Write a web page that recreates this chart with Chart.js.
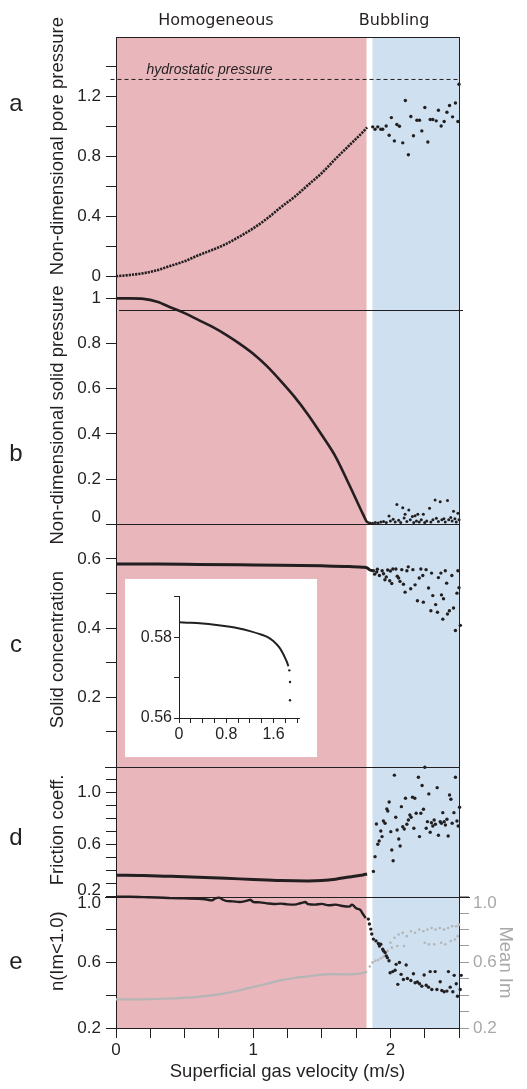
<!DOCTYPE html>
<html>
<head>
<meta charset="utf-8">
<script src="https://cdn.jsdelivr.net/npm/chart.js@4.4.1/dist/chart.umd.min.js"></script>
<style>
  html, body { margin: 0; padding: 0; background: #fff; }
  #wrap { position: relative; width: 527px; height: 1089px; }
  #main { position: absolute; left: 0; top: 0; }
  #inset { position: absolute; left: 125px; top: 579px; background: #fff; }
</style>
</head>
<body>
<div id="wrap">
  <canvas id="main" width="527" height="1089"></canvas>
  <canvas id="inset" width="192" height="178"></canvas>
</div>
<script>
// ---- data ----
const xTicks = [0, 0.25, 0.5, 0.75, 1, 1.25, 1.5, 1.75, 2, 2.25, 2.5];
const xLabels = ['0', '', '', '', '1', '', '', '', '2', '', ''];
const regimes = ['Homogeneous', 'Bubbling'];
const regimeBounds = [[0, 1.826], [1.869, 2.5]];
const hydrostatic = 1.316;

// a: pore pressure
const aTicks = [0, 0.2, 0.4, 0.6, 0.8, 1.0, 1.2, 1.4];
const aLabels = ['0', '', '0.4', '', '0.8', '', '1.2', ''];
const aHomX = [0, 0.1, 0.2, 0.3, 0.4, 0.5, 0.6, 0.7, 0.8, 0.9, 1.0, 1.1, 1.2, 1.3, 1.4, 1.5, 1.6, 1.7, 1.8, 1.83];
const aHomY = [0, 0.008, 0.02, 0.04, 0.07, 0.10, 0.14, 0.175, 0.215, 0.265, 0.32, 0.385, 0.46, 0.53, 0.61, 0.69, 0.785, 0.875, 0.965, 0.995];
const aBubX = [1.871, 1.888, 1.908, 1.930, 1.944, 1.969, 1.991, 2.007, 2.029, 2.047, 2.066, 2.090, 2.109, 2.131, 2.149, 2.168, 2.193, 2.212, 2.229, 2.251, 2.273, 2.290, 2.309, 2.334, 2.350, 2.370, 2.392, 2.412, 2.431, 2.453, 2.474, 2.492, 2.50];
const aBubY = [0.999, 0.983, 0.999, 0.983, 0.983, 1.005, 0.943, 1.061, 0.905, 1.015, 1.003, 0.892, 1.175, 0.812, 1.068, 0.939, 1.043, 1.043, 0.972, 1.128, 0.898, 1.048, 1.048, 1.039, 1.110, 1.005, 1.035, 1.097, 1.142, 1.066, 1.159, 1.035, 1.284];

// b: solid pressure
const bTicks = [0, 0.2, 0.4, 0.6, 0.8, 1];
const bLabels = ['0', '0.2', '0.4', '0.6', '0.8', '1'];
const bHomX = [0, 0.1, 0.2, 0.3, 0.4, 0.5, 0.6, 0.7, 0.8, 0.9, 1.0, 1.1, 1.2, 1.3, 1.4, 1.5, 1.6, 1.7, 1.8, 1.83, 1.86];
const bHomY = [1.0, 1.0, 0.998, 0.985, 0.96, 0.935, 0.905, 0.875, 0.84, 0.80, 0.755, 0.70, 0.635, 0.565, 0.485, 0.395, 0.30, 0.175, 0.045, 0.01, 0.005];
const bBubX = [1.87, 1.89, 1.91, 1.93, 1.95, 1.97, 1.99, 2.0, 2.02, 2.035, 2.047, 2.06, 2.075, 2.09, 2.1, 2.107, 2.12, 2.134, 2.145, 2.16, 2.17, 2.18, 2.19, 2.2, 2.21, 2.225, 2.24, 2.25, 2.265, 2.285, 2.295, 2.31, 2.326, 2.335, 2.35, 2.363, 2.375, 2.39, 2.4, 2.416, 2.425, 2.44, 2.45, 2.46, 2.47, 2.48, 2.492, 2.5];
const bBubY = [0.005, 0.008, 0.006, 0.01, 0.012, 0.008, 0.037, 0.015, 0.022, 0.01, 0.088, 0.018, 0.008, 0.073, 0.028, 0.044, 0.012, 0.063, 0.02, 0.035, 0.008, 0.038, 0.015, 0.045, 0.01, 0.02, 0.044, 0.008, 0.015, 0.071, 0.01, 0.02, 0.108, 0.027, 0.012, 0.10, 0.02, 0.025, 0.01, 0.105, 0.02, 0.03, 0.015, 0.058, 0.025, 0.01, 0.049, 0.02];

// c: solid concentration
const cTicks = [0.1, 0.2, 0.3, 0.4, 0.5, 0.6];
const cLabels = ['', '0.2', '', '0.4', '', '0.6'];
const cHomX = [0, 0.3, 0.6, 0.9, 1.2, 1.5, 1.7, 1.8, 1.83, 1.85, 1.87];
const cHomY = [0.585, 0.585, 0.584, 0.583, 0.582, 0.580, 0.578, 0.576, 0.574, 0.568, 0.566];
const cBubX = [1.876, 1.90, 1.92, 1.94, 1.96, 1.98, 1.995, 2.01, 2.018, 2.04, 2.06, 2.07, 2.083, 2.095, 2.107, 2.12, 2.13, 2.148, 2.164, 2.18, 2.197, 2.21, 2.222, 2.236, 2.24, 2.26, 2.278, 2.295, 2.30, 2.309, 2.33, 2.343, 2.35, 2.368, 2.372, 2.382, 2.387, 2.40, 2.41, 2.416, 2.43, 2.448, 2.46, 2.474, 2.485, 2.492, 2.50, 2.51, 1.885, 1.905, 1.95, 1.97, 2.0, 2.05];
const cBubY = [0.566, 0.562, 0.552, 0.566, 0.540, 0.568, 0.537, 0.529, 0.571, 0.571, 0.545, 0.535, 0.569, 0.527, 0.504, 0.566, 0.577, 0.514, 0.569, 0.525, 0.479, 0.545, 0.571, 0.552, 0.475, 0.569, 0.516, 0.450, 0.559, 0.494, 0.468, 0.446, 0.546, 0.559, 0.496, 0.426, 0.485, 0.566, 0.530, 0.441, 0.450, 0.552, 0.458, 0.393, 0.501, 0.566, 0.517, 0.408, 0.556, 0.570, 0.557, 0.548, 0.565, 0.550];

// c inset
const insetXTicks = [0, 0.2, 0.4, 0.6, 0.8, 1.0, 1.2, 1.4, 1.6, 1.8, 2.0];
const insetXLabels = ['0', '', '', '', '0.8', '', '', '', '1.6', '', ''];
const insetYTicks = [0.56, 0.57, 0.58, 0.59];
const insetYLabels = ['0.56', '', '0.58', ''];
const insetX = [0, 0.2, 0.4, 0.6, 0.8, 1.0, 1.2, 1.4, 1.5, 1.6, 1.7, 1.75, 1.8, 1.83, 1.85];
const insetY = [0.5837, 0.5836, 0.5834, 0.5831, 0.5827, 0.5822, 0.5815, 0.5806, 0.5800, 0.5790, 0.5774, 0.5762, 0.5747, 0.5737, 0.5728];
const insetTailX = [1.866, 1.878, 1.878];
const insetTailY = [0.5718, 0.5689, 0.5644];

// d: friction coefficient
const dTicks = [0.2, 0.3, 0.4, 0.5, 0.6, 0.7, 0.8, 0.9, 1.0, 1.1];
const dLabels = ['0.2', '', '', '', '0.6', '', '', '', '1.0', ''];
const dHomX = [0, 0.2, 0.4, 0.6, 0.8, 1.0, 1.2, 1.4, 1.5, 1.6, 1.7, 1.8, 1.83];
const dHomY = [0.365, 0.363, 0.357, 0.35, 0.342, 0.333, 0.325, 0.322, 0.325, 0.335, 0.352, 0.368, 0.375];
const dBubX = [1.876, 1.888, 1.898, 1.908, 1.918, 1.930, 1.939, 1.949, 1.961, 1.974, 1.981, 1.991, 2.003, 2.010, 2.020, 2.029, 2.039, 2.049, 2.061, 2.071, 2.080, 2.090, 2.101, 2.110, 2.120, 2.131, 2.142, 2.151, 2.161, 2.171, 2.178, 2.188, 2.204, 2.212, 2.222, 2.231, 2.241, 2.251, 2.261, 2.270, 2.280, 2.290, 2.299, 2.309, 2.319, 2.328, 2.341, 2.350, 2.363, 2.372, 2.382, 2.392, 2.401, 2.412, 2.421, 2.431, 2.441, 2.450, 2.463, 2.474, 2.485, 2.494, 2.504, 2.514, 2.523];
const dBubY = [0.395, 0.508, 0.759, 0.603, 0.628, 0.705, 0.662, 0.782, 0.765, 0.875, 0.859, 0.928, 0.700, 0.559, 0.477, 1.134, 0.811, 0.713, 0.644, 0.590, 0.892, 0.738, 0.721, 0.957, 0.757, 0.790, 0.828, 0.811, 0.965, 0.726, 0.957, 0.842, 1.118, 0.662, 0.842, 1.054, 0.872, 1.195, 0.726, 0.777, 0.990, 0.695, 0.769, 0.744, 0.790, 0.757, 1.038, 0.672, 0.777, 0.765, 0.846, 0.777, 0.751, 0.795, 0.667, 0.982, 0.949, 0.765, 0.846, 1.118, 0.782, 0.744, 0.888, 0.795, 0.867];

// e: n(Im<1.0) (black, left) and Mean Im (grey, right)
const eTicks = [0.2, 0.4, 0.6, 0.8, 1.0];
const eLabels = ['0.2', '', '0.6', '', '1.0'];
const imTicks = [0.2, 0.3, 0.4, 0.5, 0.6, 0.7, 0.8, 0.9, 1.0];
const imLabels = ['0.2', '', '', '', '0.6', '', '', '', '1.0'];
const nHomX = [0, 0.1, 0.2, 0.3, 0.4, 0.5, 0.6, 0.65, 0.7, 0.72, 0.75, 0.78, 0.8, 0.85, 0.9, 0.95, 0.98, 1.0, 1.05, 1.1, 1.15, 1.2, 1.25, 1.3, 1.35, 1.38, 1.4, 1.45, 1.5, 1.55, 1.6, 1.65, 1.7, 1.72, 1.75, 1.78, 1.8, 1.82];
const nHomY = [1.0, 1.0, 0.998, 0.996, 0.992, 0.99, 0.988, 0.985, 0.978, 0.988, 0.995, 0.982, 0.975, 0.972, 0.968, 0.975, 0.982, 0.968, 0.966, 0.96, 0.956, 0.958, 0.954, 0.952, 0.962, 0.968, 0.955, 0.952, 0.957, 0.948, 0.952, 0.944, 0.94, 0.952, 0.93, 0.92, 0.895, 0.87];
const nBubX = [1.839, 1.847, 1.857, 1.864, 1.876, 1.895, 1.912, 1.930, 1.944, 1.961, 1.978, 1.998, 2.017, 2.034, 2.042, 2.054, 2.066, 2.078, 2.095, 2.115, 2.124, 2.149, 2.168, 2.180, 2.197, 2.212, 2.229, 2.246, 2.261, 2.278, 2.290, 2.302, 2.326, 2.339, 2.363, 2.375, 2.392, 2.412, 2.423, 2.436, 2.455, 2.465, 2.480, 2.489, 2.509, 2.516, 1.92, 1.95, 1.97, 1.99];
const nBubY = [0.864, 0.834, 0.803, 0.773, 0.742, 0.731, 0.715, 0.711, 0.680, 0.660, 0.629, 0.537, 0.544, 0.552, 0.588, 0.466, 0.599, 0.527, 0.496, 0.584, 0.502, 0.490, 0.531, 0.476, 0.480, 0.470, 0.455, 0.523, 0.461, 0.449, 0.544, 0.435, 0.544, 0.435, 0.482, 0.429, 0.421, 0.425, 0.544, 0.449, 0.421, 0.521, 0.470, 0.394, 0.435, 0.521, 0.700, 0.670, 0.640, 0.610];
const imHomX = [0, 0.2, 0.4, 0.6, 0.75, 0.9, 1.0, 1.1, 1.2, 1.3, 1.4, 1.5, 1.6, 1.7, 1.8, 1.83];
const imHomY = [0.375, 0.375, 0.38, 0.39, 0.405, 0.43, 0.45, 0.47, 0.49, 0.505, 0.515, 0.525, 0.528, 0.527, 0.535, 0.545];
const imBubX = [1.85, 1.87, 1.89, 1.91, 1.93, 1.95, 1.97, 1.98, 2.0, 2.01, 2.03, 2.05, 2.06, 2.09, 2.1, 2.12, 2.15, 2.18, 2.21, 2.24, 2.25, 2.27, 2.28, 2.3, 2.32, 2.33, 2.36, 2.37, 2.39, 2.4, 2.42, 2.44, 2.45, 2.47, 2.48, 2.49, 2.5];
const imBubY = [0.575, 0.60, 0.61, 0.615, 0.625, 0.635, 0.65, 0.67, 0.72, 0.69, 0.75, 0.70, 0.77, 0.78, 0.70, 0.76, 0.79, 0.78, 0.80, 0.79, 0.72, 0.80, 0.71, 0.81, 0.71, 0.80, 0.81, 0.72, 0.80, 0.71, 0.81, 0.73, 0.82, 0.74, 0.82, 0.76, 0.83];

// ---- styling ----
const ink = '#231f20';
const grey = '#b5b5b5';
const regimeColors = ['#e8b6bb', '#cfe1f0'];
Chart.defaults.font.family = '"Liberation Sans", Arial, sans-serif';
Chart.defaults.color = ink;

const pts = (xs, ys) => xs.map((x, i) => ({x: x, y: ys[i]}));
const curve = (xs, ys, axis, width, color, dash) => ({
  data: pts(xs, ys), yAxisID: axis, showLine: true, pointRadius: 0,
  borderColor: color || ink, borderWidth: width, borderDash: dash || [],
  cubicInterpolationMode: 'monotone', clip: false
});
const dots = (xs, ys, axis, r, color) => ({
  data: pts(xs, ys), yAxisID: axis, showLine: false, pointRadius: r,
  pointBackgroundColor: color || ink, pointBorderWidth: 0, clip: false
});

// label nudges: 'up' / 'down' move a label off a panel boundary
function leftAxis(min, max, ticks, labels, weight, stackWeight, nudge) {
  nudge = nudge || {};
  return {
    type: 'linear', position: 'left', stack: 'left', stackWeight: stackWeight, weight: weight,
    min: min, max: max,
    afterFit: s => { s.width = 116; },
    afterBuildTicks: s => { s.ticks = ticks.map(v => ({value: v})); },
    grid: {drawOnChartArea: false, drawTicks: true, tickLength: 10, color: ink},
    border: {display: true, color: ink},
    ticks: {
      autoSkip: false, padding: 5, color: ink, font: {size: 17, lineHeight: 0.8},
      callback: (v, i) => nudge[i] === 'up' ? [labels[i], ''] : nudge[i] === 'down' ? ['', labels[i]] : labels[i]
    }
  };
}
function rightSpacer(weight, stackWeight) {
  return {
    type: 'linear', position: 'right', stack: 'right', stackWeight: stackWeight, weight: weight,
    afterFit: s => { s.width = 68; },
    grid: {drawOnChartArea: false, drawTicks: false},
    border: {display: true, color: ink},
    ticks: {display: false}
  };
}

const panelTitles = [
  {axis: 'yA', at: 0.87, text: 'Non-dimensional pore pressure'},
  {axis: 'yB', at: 0.484, text: 'Non-dimensional solid pressure'},
  {axis: 'yC', at: 0.338, text: 'Solid concentration'},
  {axis: 'yD', at: 0.713, text: 'Friction coeff.'},
  {axis: 'yE', at: 0.668, text: 'n(Im<1.0)'}
];
const panelLetters = [
  {axis: 'yA', at: 1.15, text: 'a'},
  {axis: 'yB', at: 0.31, text: 'b'},
  {axis: 'yC', at: 0.35, text: 'c'},
  {axis: 'yD', at: 0.65, text: 'd'},
  {axis: 'yE', at: 0.60, text: 'e'}
];
const regimeLabelAt = [0.728, 2.027];

const decor = {
  id: 'decor',
  beforeDraw(chart) {
    const {ctx, chartArea, scales} = chart;
    ctx.save();
    regimeBounds.forEach((b, i) => {
      const x0 = scales.x.getPixelForValue(b[0]);
      const x1 = scales.x.getPixelForValue(b[1]);
      ctx.fillStyle = regimeColors[i];
      ctx.fillRect(x0, chartArea.top, x1 - x0, chartArea.bottom - chartArea.top);
    });
    ctx.restore();
  },
  beforeDatasetsDraw(chart) {
    const {ctx, chartArea, scales} = chart;
    ctx.save();
    ctx.strokeStyle = ink;
    ctx.lineWidth = 1;
    [['yB', 3, 4], ['yC', -6, 0], ['yD', -11, 0], ['yE', -11, 11]].forEach(s => {
      const y = Math.round(scales[s[0]].top) + 0.5;
      ctx.beginPath();
      ctx.moveTo(chartArea.left + s[1], y);
      ctx.lineTo(chartArea.right + s[2], y);
      ctx.stroke();
    });
    ctx.restore();
  },
  afterDraw(chart) {
    const {ctx, scales} = chart;
    ctx.save();
    ctx.fillStyle = ink;
    ctx.textAlign = 'center';
    ctx.textBaseline = 'middle';
    ctx.font = '16px "DejaVu Sans", sans-serif';
    regimes.forEach((t, i) => ctx.fillText(t, scales.x.getPixelForValue(regimeLabelAt[i]), 21));

    ctx.font = '24px "Liberation Sans", Arial, sans-serif';
    panelLetters.forEach(p => ctx.fillText(p.text, 16, scales[p.axis].getPixelForValue(p.at)));

    ctx.font = '18.5px "Liberation Sans", Arial, sans-serif';
    panelTitles.forEach(p => {
      ctx.save();
      ctx.translate(58, scales[p.axis].getPixelForValue(p.at));
      ctx.rotate(-Math.PI / 2);
      ctx.fillText(p.text, 0, 0);
      ctx.restore();
    });

    ctx.font = 'italic 14px "Liberation Sans", Arial, sans-serif';
    ctx.textAlign = 'left';
    ctx.textBaseline = 'alphabetic';
    ctx.fillText('hydrostatic pressure', scales.x.getPixelForValue(0.222), scales.yA.getPixelForValue(hydrostatic + 0.035));
    ctx.restore();
  }
};

new Chart(document.getElementById('main'), {
  type: 'scatter',
  data: {
    datasets: [
      {data: [{x: -0.04, y: hydrostatic}, {x: 2.5, y: hydrostatic}], yAxisID: 'yA', showLine: true, pointRadius: 0,
       borderColor: ink, borderWidth: 1, borderDash: [4, 3], clip: false},
      curve(aHomX, aHomY, 'yA', 2.6, ink, [2.2, 1]),
      dots(aBubX, aBubY, 'yA', 1.7),
      curve(bHomX, bHomY, 'yB', 2.6),
      dots(bBubX, bBubY, 'yB', 1.5),
      curve(cHomX, cHomY, 'yC', 3),
      dots(cBubX, cBubY, 'yC', 1.7),
      curve(dHomX, dHomY, 'yD', 3),
      dots(dBubX, dBubY, 'yD', 1.7),
      curve(nHomX, nHomY, 'yE', 2.4),
      dots(nBubX, nBubY, 'yE', 1.7),
      curve(imHomX, imHomY, 'yIm', 2.2, grey),
      dots(imBubX, imBubY, 'yIm', 1.3, grey)
    ]
  },
  options: {
    responsive: false,
    devicePixelRatio: 1,
    animation: false,
    layout: {padding: 0},
    plugins: {legend: {display: false}, tooltip: {enabled: false}},
    scales: {
      x: {
        type: 'linear', position: 'bottom', min: 0, max: 2.5,
        afterFit: s => { s.height = 61; },
        afterBuildTicks: s => { s.ticks = xTicks.map(v => ({value: v})); },
        grid: {drawOnChartArea: false, drawTicks: true, tickLength: 10, color: ink},
        border: {display: true, color: ink},
        ticks: {autoSkip: false, maxRotation: 0, padding: 2, color: ink, font: {size: 17},
                callback: (v, i) => xLabels[i]},
        title: {display: true, text: 'Superficial gas velocity (m/s)', color: ink,
                font: {size: 18.5}, padding: {top: 0, bottom: 6}}
      },
      xTop: {
        type: 'linear', position: 'top', min: 0, max: 2.5,
        afterFit: s => { s.height = 37; },
        grid: {drawOnChartArea: false, drawTicks: false},
        border: {display: true, color: ink},
        ticks: {display: false}
      },
      yA: leftAxis(-0.227, 1.6, aTicks, aLabels, 5, 273.3),
      yB: leftAxis(0, 0.948, bTicks, bLabels, 4, 214.3, {0: 'up'}),
      yC: leftAxis(0, 0.7, cTicks, cLabels, 3, 242.4),
      yD: leftAxis(0.2, 1.2, dTicks, dLabels, 2, 130.3, {0: 'up'}),
      yE: leftAxis(0.2, 1.0, eTicks, eLabels, 1, 131.3, {4: 'down'}),
      rA: rightSpacer(1, 273.3),
      rB: rightSpacer(2, 214.3),
      rC: rightSpacer(3, 242.4),
      rD: rightSpacer(4, 130.3),
      yIm: {
        type: 'linear', position: 'right', stack: 'right', stackWeight: 131.3, weight: 5,
        min: 0.2, max: 1.0,
        afterFit: s => { s.width = 68; },
        afterBuildTicks: s => { s.ticks = imTicks.map(v => ({value: v})); },
        grid: {drawOnChartArea: false, drawTicks: true, tickLength: 10, color: '#9a9a9a'},
        border: {display: true, color: ink},
        ticks: {autoSkip: false, padding: 4, color: '#a8a8a8', font: {size: 17, lineHeight: 0.8},
                callback: (v, i) => i === 8 ? ['', imLabels[i]] : imLabels[i]},
        title: {display: true, text: 'Mean Im', color: '#a8a8a8', font: {size: 18.5}, padding: {top: 11, bottom: 0}}
      }
    }
  },
  plugins: [decor]
});

// ---- inset of panel c ----
new Chart(document.getElementById('inset'), {
  type: 'scatter',
  data: {
    datasets: [
      curve(insetX, insetY, 'y', 2),
      dots(insetTailX, insetTailY, 'y', 1.2)
    ]
  },
  options: {
    responsive: false,
    devicePixelRatio: 1,
    animation: false,
    layout: {padding: {top: 17, right: 18, left: 0, bottom: 0}},
    plugins: {legend: {display: false}, tooltip: {enabled: false}},
    scales: {
      x: {
        type: 'linear', min: 0, max: 2.03,
        afterFit: s => { s.height = 39; },
        afterBuildTicks: s => { s.ticks = insetXTicks.map(v => ({value: v})); },
        grid: {drawOnChartArea: false, drawTicks: true, tickLength: 5, color: ink},
        border: {display: true, color: ink},
        ticks: {autoSkip: false, maxRotation: 0, padding: 2, color: ink, font: {size: 16},
                callback: (v, i) => insetXLabels[i]}
      },
      y: {
        type: 'linear', min: 0.56, max: 0.5902,
        afterFit: s => { s.width = 54; },
        afterBuildTicks: s => { s.ticks = insetYTicks.map(v => ({value: v})); },
        grid: {drawOnChartArea: false, drawTicks: true, tickLength: 5, color: ink},
        border: {display: true, color: ink},
        ticks: {autoSkip: false, padding: 2, color: ink, font: {size: 16},
                callback: (v, i) => insetYLabels[i]}
      }
    }
  }
});
</script>
</body>
</html>
